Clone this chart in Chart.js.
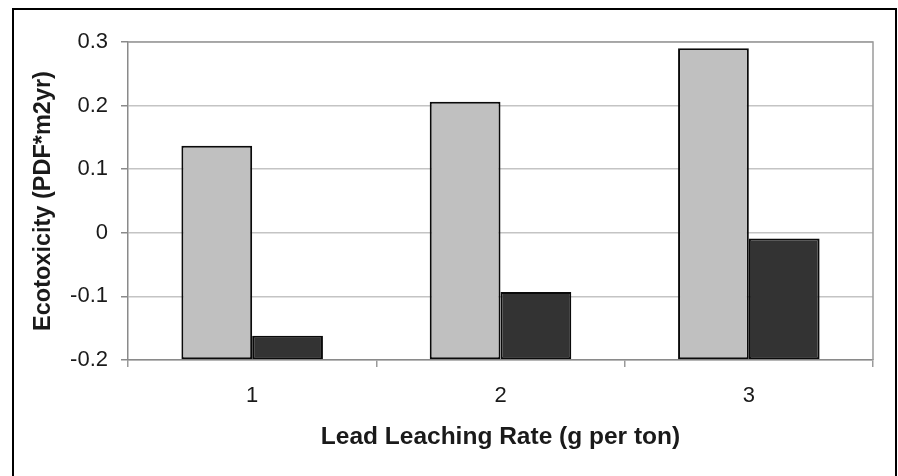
<!DOCTYPE html>
<html>
<head>
<meta charset="utf-8">
<script src="https://cdn.jsdelivr.net/npm/chart.js@4"></script>
<style>
  html, body { margin: 0; padding: 0; background: #fff; overflow: hidden; }
  #wrap { position: relative; width: 898px; height: 476px; }
  #frame { position: absolute; left: 12px; top: 8px; width: 881px; height: 520px; border: 2px solid #000; }
  canvas { position: absolute; left: 0; top: 0; }
</style>
</head>
<body>
<div id="wrap">
  <div id="frame"></div>
  <canvas id="chart" width="898" height="476"></canvas>
</div>
<script>
// data
const categories = ['1', '2', '3'];
const lightValues = [0.137, 0.206, 0.290];
const darkValues = [-0.162, -0.093, -0.009];
const yTickLabels = ['-0.2', '-0.1', '0', '0.1', '0.2', '0.3'];

const FONT = "'Liberation Sans', Arial, sans-serif";

// thin gray box around the plot area
const plotFrame = {
    id: 'plotFrame',
    afterDatasetsDraw(chart) {
        const a = chart.chartArea;
        const ctx = chart.ctx;
        ctx.save();
        ctx.strokeStyle = '#9a9a9a';
        ctx.lineWidth = 1.5;
        ctx.beginPath();
        ctx.moveTo(a.left, a.top);
        ctx.lineTo(a.right, a.top);
        ctx.lineTo(a.right, a.bottom);
        ctx.stroke();
        ctx.restore();
    }
};

var ctx = document.getElementById('chart').getContext('2d');
var chart = new Chart(ctx, {
    type: 'bar',
    data: {
        labels: categories,
        datasets: [
            {
                label: 'A',
                data: lightValues,
                base: -0.2,
                backgroundColor: '#c0c0c0',
                borderColor: '#0a0a0a',
                borderWidth: 2,
                borderSkipped: false
            },
            {
                label: 'B',
                data: darkValues,
                base: -0.2,
                backgroundColor: '#333333',
                borderColor: '#0a0a0a',
                borderWidth: 2,
                borderSkipped: false
            }
        ]
    },
    options: {
        responsive: false,
        animation: false,
        devicePixelRatio: 1,
        layout: { padding: { left: 0, right: 25, top: 42, bottom: 0 } },
        datasets: {
            bar: { categoryPercentage: 0.57, barPercentage: 1.0 }
        },
        scales: {
            x: {
                afterFit: function (scale) { scale.height = 116; },
                grid: {
                    offset: true,
                    drawOnChartArea: false,
                    drawTicks: true,
                    tickLength: 7,
                    color: '#9a9a9a',
                    lineWidth: 1.5
                },
                border: { color: '#8a8a8a', width: 1.5 },
                ticks: {
                    color: '#1a1a1a',
                    padding: 16,
                    font: { family: FONT, size: 22 }
                },
                title: {
                    display: true,
                    text: 'Lead Leaching Rate (g per ton)',
                    color: '#1a1a1a',
                    font: { family: FONT, size: 24.5, weight: 'bold' },
                    padding: { top: 0, bottom: 24 }
                }
            },
            y: {
                min: -0.2,
                max: 0.3,
                afterFit: function (scale) { scale.width = 128; },
                grid: {
                    color: '#c4c4c4',
                    lineWidth: 1.5,
                    tickLength: 7,
                    tickColor: '#8a8a8a'
                },
                border: { color: '#8a8a8a', width: 1.5 },
                ticks: {
                    stepSize: 0.1,
                    color: '#1a1a1a',
                    padding: 13,
                    font: { family: FONT, size: 22 },
                    callback: function (value, index) {
                        return yTickLabels[index];
                    }
                },
                title: {
                    display: true,
                    text: 'Ecotoxicity (PDF*m2yr)',
                    color: '#1a1a1a',
                    font: { family: FONT, size: 23.5, weight: 'bold' },
                    padding: { top: 29, bottom: 0 }
                }
            }
        },
        plugins: {
            legend: { display: false },
            tooltip: { enabled: false }
        }
    },
    plugins: [plotFrame]
});
</script>
</body>
</html>
